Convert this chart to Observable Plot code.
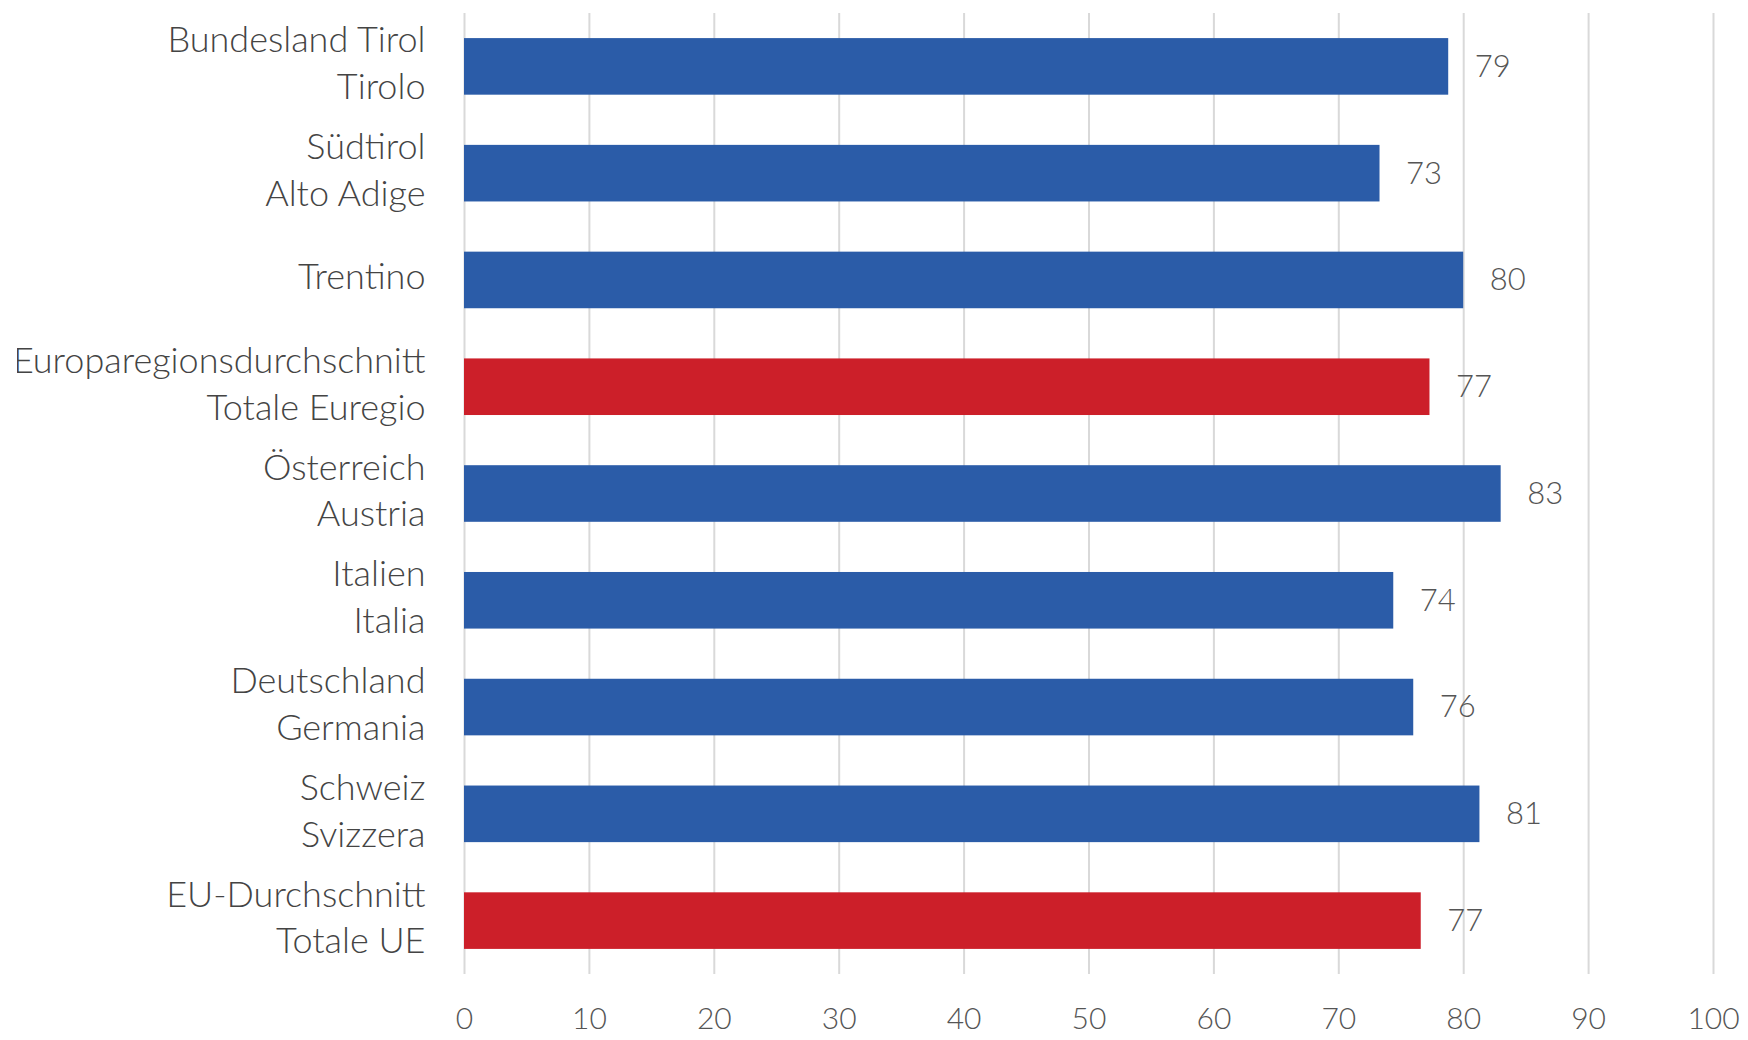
<!DOCTYPE html>
<html>
<head>
<meta charset="utf-8">
<script src="https://cdn.jsdelivr.net/npm/d3@7"></script>
<script src="https://cdn.jsdelivr.net/npm/@observablehq/plot@0.6"></script>
<style>
  html, body { margin: 0; padding: 0; background: #fff; width: 1748px; height: 1040px; overflow: hidden; }
  #chart { position: absolute; left: 17px; top: 0; }
</style>
</head>
<body>
<div id="chart"></div>
<script>
const namesDE = ["Bundesland Tirol", "Südtirol", "Trentino", "Europaregionsdurchschnitt", "Österreich", "Italien", "Deutschland", "Schweiz", "EU-Durchschnitt"];
const namesIT = ["Tirolo", "Alto Adige", "", "Totale Euregio", "Austria", "Italia", "Germania", "Svizzera", "Totale UE"];
const values = [78.8, 73.3, 80.0, 77.3, 83.0, 74.4, 76.0, 81.3, 76.6];
const kinds = ["Gebiet", "Gebiet", "Gebiet", "Durchschnitt", "Gebiet", "Gebiet", "Gebiet", "Gebiet", "Durchschnitt"];
const xTicks = [0, 10, 20, 30, 40, 50, 60, 70, 80, 90, 100];

const data = namesDE.map((de, i) => ({
  key: de,
  label: namesIT[i] ? de + "\n" + namesIT[i] : de,
  value: values[i],
  kind: kinds[i]
}));
const labelOf = new Map(data.map(d => [d.key, d.label]));

const chart = Plot.plot({
  width: 1731,
  height: 1040,
  marginTop: 13,
  marginBottom: 66,
  marginLeft: 447,
  marginRight: 35,
  style: { fontFamily: "Lato, 'Open Sans', sans-serif", fontSize: "30px", color: "#444", background: "white", fontWeight: 300 },
  x: { domain: [0, 100], axis: null },
  y: { domain: namesDE, paddingInner: 0.47, paddingOuter: 0.235, round: false, axis: null },
  color: { domain: ["Gebiet", "Durchschnitt"], range: ["#2b5ca8", "#cc1f29"] },
  marks: [
    Plot.gridX(xTicks, { stroke: "#d9d9d9", strokeWidth: 2, strokeOpacity: 1 }),
    Plot.barX(data, { x: "value", y: "key", fill: "kind" }),
    Plot.text(data, { x: "value", y: "key", text: d => d3.format(".0f")(d.value), textAnchor: "start", dx: 26, fill: "#555", fontSize: 31 }),
    Plot.axisX({ ticks: xTicks, tickSize: 0, tickPadding: 33, fontSize: 30, fill: "#555", label: null }),
    Plot.axisY({ tickSize: 0, tickPadding: 39, dy: -6, tickFormat: k => labelOf.get(k), fontSize: 36, lineHeight: 1.3, fill: "#444", label: null })
  ]
});
document.getElementById("chart").appendChild(chart);
</script>
</body>
</html>
